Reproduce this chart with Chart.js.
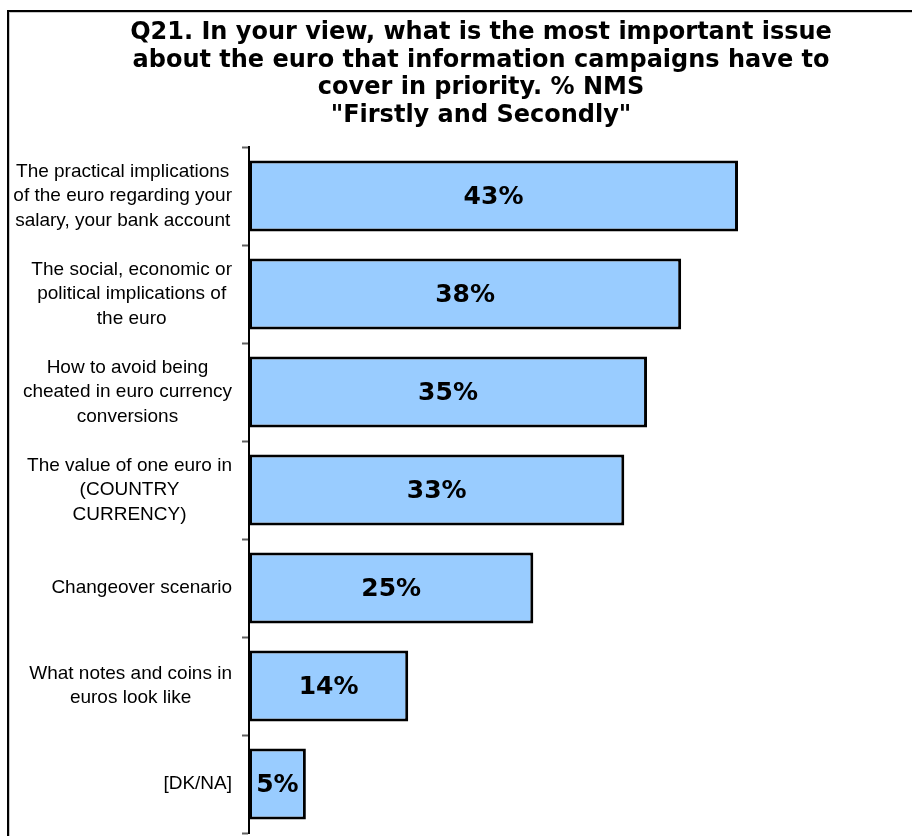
<!DOCTYPE html>
<html>
<head>
<meta charset="utf-8">
<script src="https://cdn.jsdelivr.net/npm/chart.js@4/dist/chart.umd.min.js"></script>
<style>
  html, body { margin: 0; padding: 0; background: #fff; overflow: hidden; }
  #wrap { position: relative; width: 912px; height: 836px; }
  #marco {
    position: absolute; left: 7px; top: 10px; width: 1000px; height: 1000px;
    border-top: 2px solid #000; border-left: 2px solid #000;
    box-shadow: inset 1px 1px 0 #c8c8c8; pointer-events: none;
  }
</style>
</head>
<body>
<div id="wrap">
  <canvas id="grafico" width="912" height="836"></canvas>
  <div id="marco"></div>
</div>
<script>
// Datos del gráfico
const titulo = [
    'Q21. In your view, what is the most important issue',
    'about the euro that information campaigns have to',
    'cover in priority. % NMS',
    '"Firstly and Secondly"'
];
const categorias = [
    ['The practical implications', 'of the euro regarding your', 'salary, your bank account'],
    ['The social, economic or', 'political implications of', 'the euro'],
    ['How to avoid being', 'cheated in euro currency', 'conversions'],
    ['The value of one euro in', '(COUNTRY', 'CURRENCY)'],
    ['Changeover scenario'],
    ['What notes and coins in', 'euros look like'],
    ['[DK/NA]']
];
const valores = [43, 38, 35, 33, 25, 14, 5];

// Etiquetas de categoría: bloque alineado a la derecha, líneas centradas
const etiquetasEje = {
    id: 'etiquetasEje',
    afterDraw(chart) {
        const { ctx } = chart;
        const escalaY = chart.scales.y;
        const bordeDerecho = 232;
        const interlinea = 24.5;
        ctx.save();
        ctx.font = '19px "Liberation Sans", Arial, sans-serif';
        ctx.fillStyle = '#000';
        ctx.textAlign = 'center';
        ctx.textBaseline = 'middle';
        categorias.forEach((lineas, i) => {
            const y = escalaY.getPixelForValue(i);
            const ancho = Math.max(...lineas.map(l => ctx.measureText(l).width));
            const cx = bordeDerecho - ancho / 2;
            const y0 = y - (lineas.length - 1) / 2 * interlinea;
            lineas.forEach((l, k) => ctx.fillText(l, cx, y0 + k * interlinea));
        });
        ctx.restore();
    }
};

// Valores dentro de cada barra
const valoresBarras = {
    id: 'valoresBarras',
    afterDatasetsDraw(chart) {
        const { ctx } = chart;
        const meta = chart.getDatasetMeta(0);
        ctx.save();
        ctx.font = 'bold 25px "DejaVu Sans", Verdana, sans-serif';
        ctx.fillStyle = '#000';
        ctx.textAlign = 'center';
        ctx.textBaseline = 'middle';
        meta.data.forEach((barra, i) => {
            ctx.fillText(valores[i] + '%', (barra.base + barra.x) / 2, barra.y + 1);
        });
        ctx.restore();
    }
};

new Chart(document.getElementById('grafico').getContext('2d'), {
    type: 'bar',
    data: {
        labels: categorias,
        datasets: [{
            data: valores,
            backgroundColor: '#99CCFF',
            borderColor: '#000',
            borderWidth: 3,
            borderSkipped: false,
            barPercentage: 0.725,
            categoryPercentage: 1
        }]
    },
    options: {
        indexAxis: 'y',
        responsive: false,
        animation: false,
        devicePixelRatio: 1,
        layout: { padding: { left: 87.5, right: 37.5, top: 0, bottom: 3 } },
        plugins: {
            legend: { display: false },
            tooltip: { enabled: false },
            title: {
                display: true,
                text: titulo,
                color: '#000',
                font: { family: '"DejaVu Sans", Verdana, sans-serif', size: 24, weight: 'bold', lineHeight: '27.6px' },
                padding: { top: 19, bottom: 17.6 }
            }
        },
        scales: {
            x: { display: false, min: 0, max: 55 },
            y: {
                offset: true,
                grid: {
                    display: true,
                    offset: true,
                    drawOnChartArea: false,
                    drawTicks: true,
                    tickLength: 7,
                    tickColor: '#606060',
                    tickWidth: 2
                },
                border: { display: true, color: '#000', width: 2 },
                ticks: { display: false },
                afterFit(escala) { escala.width = 161.5; }
            }
        }
    },
    plugins: [etiquetasEje, valoresBarras]
});
</script>
</body>
</html>
